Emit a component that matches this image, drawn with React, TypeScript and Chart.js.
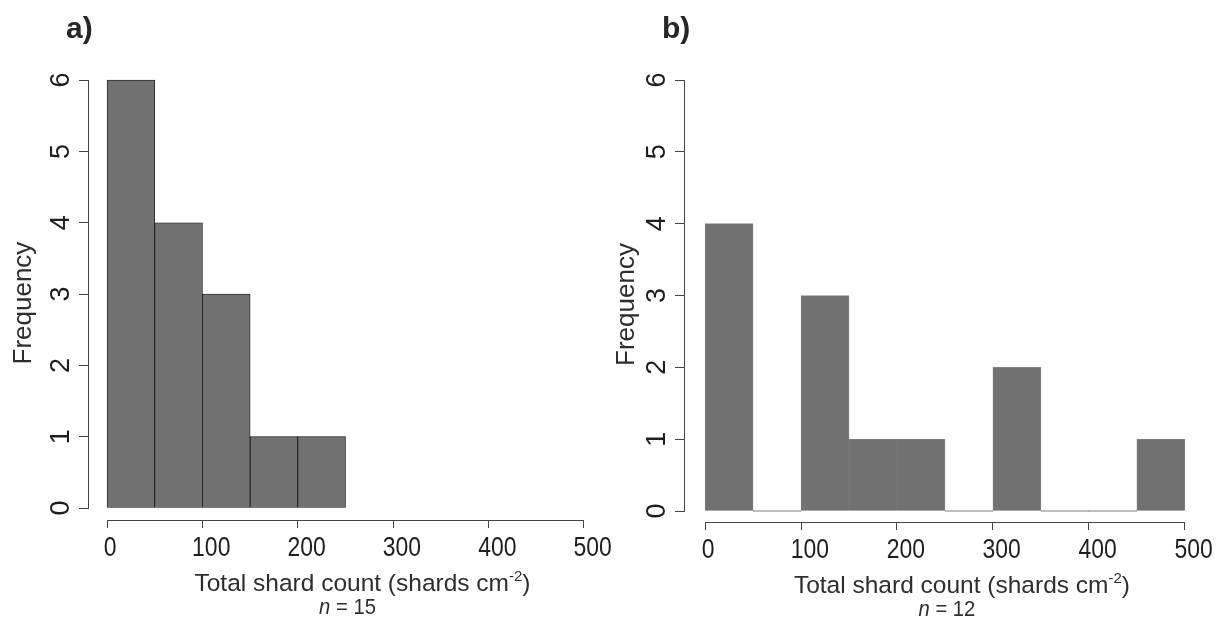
import React, { useEffect, useRef } from "react";
import { Chart, registerables } from "chart.js";

Chart.register(...registerables);

// ---- data ----
const BIN_STARTS = [0, 50, 100, 150, 200, 250, 300, 350, 400, 450];
const BIN_WIDTH = 50;
const FREQ_A = [6, 4, 3, 1, 1];
const FREQ_B = [4, 0, 3, 1, 1, 0, 2, 0, 0, 1];
const X_TICKS = [0, 100, 200, 300, 400, 500];
const Y_TICKS = [0, 1, 2, 3, 4, 5, 6];
const LABEL_A = "a)";
const LABEL_B = "b)";
const N_A = 15;
const N_B = 12;
const X_TITLE = "Total shard count (shards cm";
const X_TITLE_SUP = "-2";
const X_TITLE_END = ")";
const Y_TITLE = "Frequency";

const FAMILY = "'Liberation Sans', Arial, Helvetica, sans-serif";
const AXIS_COLOR = "#444444";
const TEXT_COLOR = "#1e1e1e";
const TITLE_COLOR = "#2e2e2e";

type PanelCfg = {
  label: string;
  freq: number[];
  n: number;
  left: number;
  width: number;
  yAxisWidth: number;
  xScaleHeight: number;
  padRight: number;
  xMin: number;
  xMax: number;
  yMin: number;
  yMax: number;
  yTitleOffset: number;
  barBorder: string;
  barBorderWidth: number;
  minBar: number;
};

function drawText(
  ctx: CanvasRenderingContext2D,
  s: string,
  x: number,
  y: number,
  font: string,
  color: string,
  align: CanvasTextAlign,
  hs: number,
  rotate: boolean
) {
  ctx.save();
  ctx.translate(x, y);
  ctx.scale(hs, 1);
  if (rotate) ctx.rotate(-Math.PI / 2);
  ctx.font = font;
  ctx.fillStyle = color;
  ctx.textAlign = align;
  ctx.textBaseline = "alphabetic";
  ctx.fillText(s, 0, 0);
  ctx.restore();
}

function Panel({ cfg }: { cfg: PanelCfg }) {
  const ref = useRef<HTMLCanvasElement>(null);

  useEffect(() => {
    const canvas = ref.current!;
    const TICK_SIZE = 27;
    const TICK_HS = 0.85;
    const YTICK_SIZE = 27;

    const plugin = {
      id: "rStyleAxes",
      afterDraw(chart: any) {
        const ctx: CanvasRenderingContext2D = chart.ctx;
        const xs = chart.scales.x;
        const ys = chart.scales.y;
        const area = chart.chartArea;
        const al = (v: number) => Math.round(v - 0.5) + 0.5;

        ctx.save();
        // axis lines spanning first..last tick (R style)
        ctx.strokeStyle = AXIS_COLOR;
        ctx.lineWidth = 1;
        ctx.beginPath();
        const yLine = al(area.bottom);
        ctx.moveTo(al(xs.getPixelForValue(X_TICKS[0])) - 0.5, yLine);
        ctx.lineTo(al(xs.getPixelForValue(X_TICKS[X_TICKS.length - 1])) + 0.5, yLine);
        const xLine = al(area.left);
        ctx.moveTo(xLine, al(ys.getPixelForValue(Y_TICKS[0])) + 0.5);
        ctx.lineTo(xLine, al(ys.getPixelForValue(Y_TICKS[Y_TICKS.length - 1])) - 0.5);
        ctx.stroke();
        ctx.restore();

        const tickFont = `${TICK_SIZE}px ${FAMILY}`;
        // x tick labels
        ctx.save();
        ctx.font = tickFont;
        for (const t of xs.ticks) {
          const s = String(t.value);
          const w = ctx.measureText(s).width * TICK_HS;
          const px = xs.getPixelForValue(t.value);
          drawText(ctx, s, px - 0.27 * w, area.bottom + 36, tickFont, TEXT_COLOR, "left", TICK_HS, false);
        }
        ctx.restore();

        // y tick labels (rotated, parallel to axis)
        const yTickFont = `${YTICK_SIZE}px ${FAMILY}`;
        for (const t of ys.ticks) {
          const py = ys.getPixelForValue(t.value);
          drawText(
            ctx,
            String(t.value),
            area.left - 29 + 0.358 * YTICK_SIZE,
            py,
            yTickFont,
            TEXT_COLOR,
            "center",
            1,
            true
          );
        }

        // y title
        const yMid = (ys.getPixelForValue(Y_TICKS[0]) + ys.getPixelForValue(Y_TICKS[Y_TICKS.length - 1])) / 2 + 9;
        const yTitleSize = 26;
        drawText(
          ctx,
          Y_TITLE,
          area.left + cfg.yTitleOffset + 0.358 * yTitleSize,
          yMid,
          `${yTitleSize}px ${FAMILY}`,
          TITLE_COLOR,
          "center",
          1,
          true
        );

        // x title with superscript
        const xMid = (xs.getPixelForValue(X_TICKS[0]) + xs.getPixelForValue(X_TICKS[X_TICKS.length - 1])) / 2;
        const tFont = `24.5px ${FAMILY}`;
        const sFont = `15px ${FAMILY}`;
        ctx.save();
        ctx.font = tFont;
        const w1 = ctx.measureText(X_TITLE).width;
        const w3 = ctx.measureText(X_TITLE_END).width;
        ctx.font = sFont;
        const w2 = ctx.measureText(X_TITLE_SUP).width;
        ctx.restore();
        const total = w1 + w2 + w3;
        const tx = xMid + 17 - total / 2;
        const tBase = area.bottom + 71;
        drawText(ctx, X_TITLE, tx, tBase, tFont, TITLE_COLOR, "left", 1, false);
        drawText(ctx, X_TITLE_SUP, tx + w1, tBase - 10, sFont, TITLE_COLOR, "left", 1, false);
        drawText(ctx, X_TITLE_END, tx + w1 + w2, tBase, tFont, TITLE_COLOR, "left", 1, false);

        // n = ...
        const nHs = 0.92;
        const nFontI = `italic 22px ${FAMILY}`;
        const nFont = `22px ${FAMILY}`;
        const rest = ` = ${cfg.n}`;
        ctx.save();
        ctx.font = nFontI;
        const wn = ctx.measureText("n").width * nHs;
        ctx.font = nFont;
        const wr = ctx.measureText(rest).width * nHs;
        ctx.restore();
        const nx = xMid + 2 - (wn + wr) / 2;
        const nBase = area.bottom + 94;
        drawText(ctx, "n", nx, nBase, nFontI, TITLE_COLOR, "left", nHs, false);
        drawText(ctx, rest, nx + wn, nBase, nFont, TITLE_COLOR, "left", nHs, false);

        // panel label
        drawText(ctx, cfg.label, area.left - 22, 38, `bold 30px ${FAMILY}`, "#262626", "left", 1, false);
      },
    };

    const chart = new Chart(canvas, {
      type: "bar",
      data: {
        datasets: [
          {
            data: cfg.freq.map((v, i) => ({ x: BIN_STARTS[i] + BIN_WIDTH / 2, y: v })),
            backgroundColor: "#717171",
            borderColor: cfg.barBorder,
            borderWidth: cfg.barBorderWidth,
            borderSkipped: false,
            barPercentage: 1,
            categoryPercentage: 1,
            minBarLength: cfg.minBar,
          } as any,
        ],
      },
      options: {
        animation: false,
        responsive: false,
        devicePixelRatio: 1,
        layout: { padding: { top: 63, right: cfg.padRight, bottom: 0, left: 0 } },
        plugins: {
          legend: { display: false },
          tooltip: { enabled: false },
          title: { display: false },
        },
        scales: {
          x: {
            type: "linear",
            position: "bottom",
            min: cfg.xMin,
            max: cfg.xMax,
            offset: false,
            afterBuildTicks: (s: any) => {
              s.ticks = X_TICKS.map((v) => ({ value: v }));
            },
            afterFit: (s: any) => {
              s.height = cfg.xScaleHeight;
            },
            ticks: { display: false },
            grid: {
              offset: false,
              drawOnChartArea: false,
              drawTicks: true,
              tickLength: 8,
              color: AXIS_COLOR,
              tickColor: AXIS_COLOR,
              lineWidth: 1,
            },
            border: { display: false },
          },
          y: {
            type: "linear",
            min: cfg.yMin,
            max: cfg.yMax,
            afterBuildTicks: (s: any) => {
              s.ticks = Y_TICKS.map((v) => ({ value: v }));
            },
            afterFit: (s: any) => {
              s.width = cfg.yAxisWidth;
            },
            ticks: { display: false },
            grid: {
              offset: false,
              drawOnChartArea: false,
              drawTicks: true,
              tickLength: 9,
              color: AXIS_COLOR,
              tickColor: AXIS_COLOR,
              lineWidth: 1,
            },
            border: { display: false },
          },
        },
      } as any,
      plugins: [plugin],
    });
    return () => chart.destroy();
  }, [cfg]);

  return (
    <canvas
      ref={ref}
      width={cfg.width}
      height={619}
      style={{ display: "block", position: "absolute", left: cfg.left, top: 0, width: cfg.width, height: 619 }}
    />
  );
}

const PANEL_A: PanelCfg = {
  label: LABEL_A,
  freq: FREQ_A,
  n: N_A,
  left: 0,
  width: 625,
  yAxisWidth: 88,
  xScaleHeight: 99,
  padRight: 22,
  xMin: -20,
  xMax: 520,
  yMin: -0.168,
  yMax: 6.24,
  yTitleOffset: -66,
  barBorder: "#111111",
  barBorderWidth: 0.8,
  minBar: 0,
};

const PANEL_B: PanelCfg = {
  label: LABEL_B,
  freq: FREQ_B,
  n: N_B,
  left: 607,
  width: 610,
  yAxisWidth: 77,
  xScaleHeight: 97,
  padRight: 13,
  xMin: -22,
  xMax: 520,
  yMin: -0.153,
  yMax: 6.237,
  yTitleOffset: -59,
  barBorder: "rgba(55,55,55,0.6)",
  barBorderWidth: 0.7,
  minBar: 1,
};

export default function App() {
  return (
    <div
      style={{
        position: "absolute",
        left: 0,
        top: 0,
        width: 1217,
        height: 619,
        background: "#ffffff",
        overflow: "hidden",
      }}
    >
      <Panel cfg={PANEL_A} />
      <Panel cfg={PANEL_B} />
    </div>
  );
}
